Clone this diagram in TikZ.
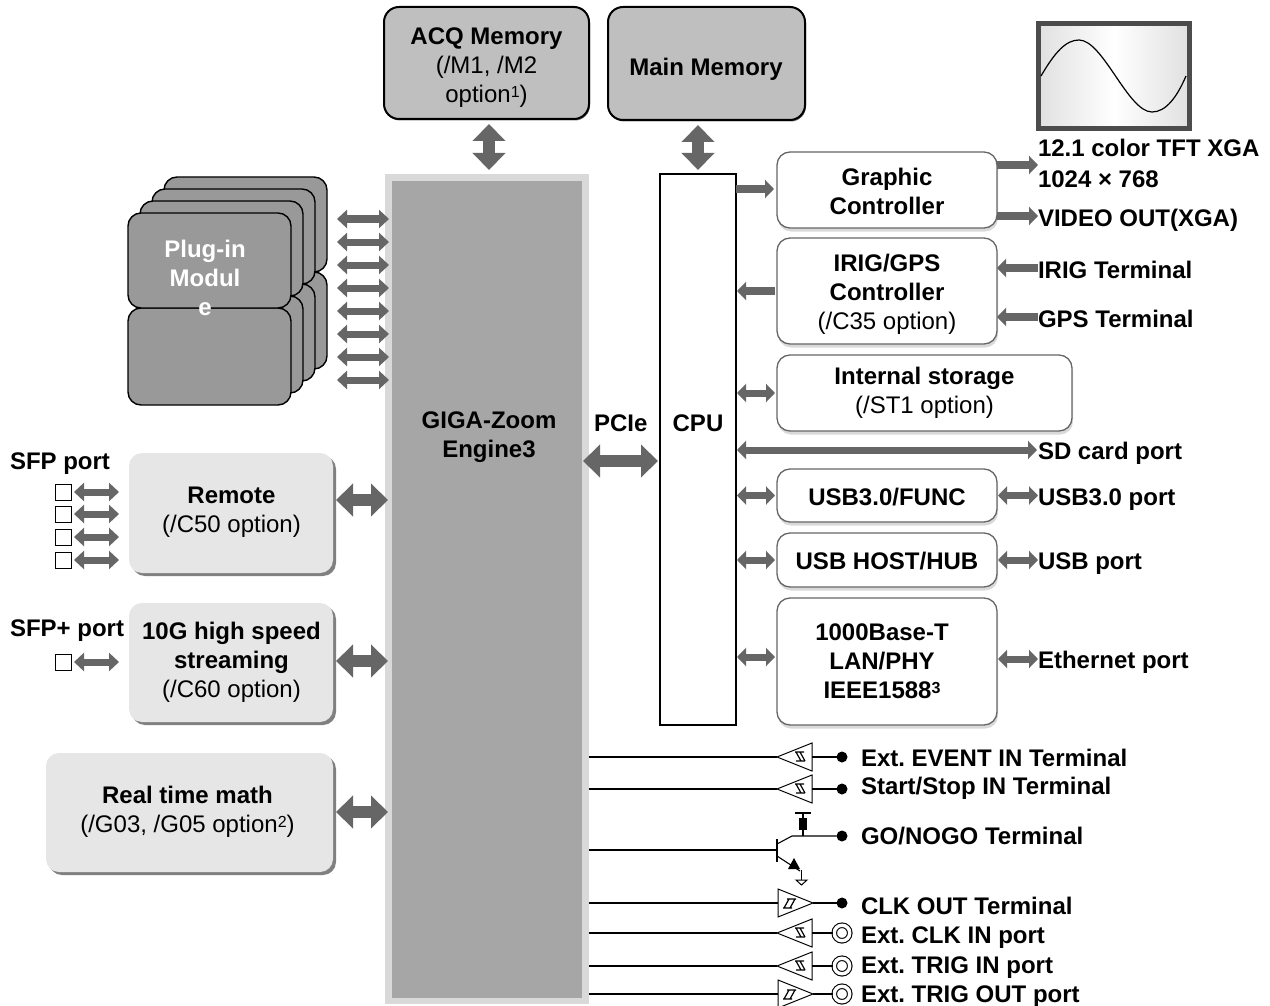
\documentclass[tikz,border=0pt]{standalone}
\usepackage{fontspec}
\setmainfont{Liberation Sans}
\usetikzlibrary{arrows.meta,shapes.geometric,shadows,calc}
\definecolor{arrowgray}{HTML}{666666}
\definecolor{memfill}{HTML}{BFBFBF}
\definecolor{plugfill}{HTML}{999999}
\definecolor{optfill}{HTML}{E6E6E6}
\definecolor{engout}{HTML}{D9D9D9}
\definecolor{engin}{HTML}{A6A6A6}
\tikzset{
  x=1pt,y=-1pt,
  every node/.style={font=\fontsize{24}{29}\selectfont,inner sep=0pt,outer sep=0pt,align=center},
  membox/.style={draw=black,line width=2pt,fill=memfill,rounded corners=15pt,
    general shadow={fill=black!55,shadow xshift=1pt,shadow yshift=-1.5pt}},
  plugbox/.style={draw=black,line width=1.4pt,fill=plugfill,rounded corners=13pt,minimum width=163pt},
  optbox/.style={fill=optfill,rounded corners=13pt,
    general shadow={fill=black!50,shadow xshift=3pt,shadow yshift=-3pt}},
  ctlbox/.style={draw=black!60,line width=1.3pt,fill=white,rounded corners=13pt,
    general shadow={fill=black!15,shadow xshift=1pt,shadow yshift=-3.5pt}},
  plainbox/.style={draw=black,line width=1.5pt,fill=white},
  lab/.style={anchor=base west},
  bigdbl/.style={draw=arrowgray,line width=12pt,{Triangle[length=17pt,width=32pt]}-{Triangle[length=17pt,width=32pt]}},
  middbl/.style={draw=arrowgray,line width=7pt,{Triangle[length=9pt,width=18pt]}-{Triangle[length=9pt,width=18pt]}},
  midone/.style={draw=arrowgray,line width=8pt,-{Triangle[length=9pt,width=18pt]}},
  smalldbl/.style={draw=arrowgray,line width=7pt,{Triangle[length=10pt,width=18pt]}-{Triangle[length=10pt,width=18pt]}},
  wire/.style={draw=black,line width=1.1pt},
  symb/.style={draw=black,line width=1pt},
  dotnode/.style={circle,fill=black,minimum size=11pt},
  ringnode/.style={circle,draw=black,line width=1.1pt,fill=white,minimum size=15.5pt,double=white,double distance=3.4pt},
  portbox/.style={draw=black,line width=1pt,fill=white,minimum size=16pt},
}
\newcommand{\supmark}[1]{\raisebox{5pt}{\fontsize{16}{16}\selectfont #1}}
% input buffer pointing left: apex coordinate #1-a, back coordinate #1-b
\newcommand{\bufleft}[2]{%
  \coordinate (#1-a) at (777,#2);
  \coordinate (#1-b) at (812,#2);
  \draw[symb,fill=white] (#1-a) -- (812,#2-14) -- (812,#2+14) -- cycle;
  \draw[symb,line width=1.2pt] (795,#2-5) -- (804,#2-5) (796,#2+4) -- (805,#2+4)
     (796,#2-5) -- (801,#2+4) (800,#2-5) -- (805,#2+4);
}
% output buffer pointing right
\newcommand{\bufright}[2]{%
  \coordinate (#1-b) at (778,#2);
  \coordinate (#1-a) at (813,#2);
  \draw[symb,fill=white] (#1-b) -- (778,#2-14) -- (#1-a) -- (778,#2+14) -- cycle;
  \draw[symb,line width=1.2pt] (783,#2+5) -- (792,#2+5) (787,#2-4) -- (796,#2-4)
     (784,#2+5) -- (789,#2-4) (790,#2+5) -- (795,#2-4);
}
\begin{document}
\frenchspacing
\begin{tikzpicture}
\useasboundingbox (0,0) rectangle (1270,1006);
% memories
\node[membox,minimum width=205pt,minimum height=112pt] (acq) at (486.5,63) {};
\node (acqtext) at (486.5,67.5) {\textbf{ACQ Memory}\\(/M1, /M2\\option\supmark{1})};
\node[membox,minimum width=197pt,minimum height=113pt] (mainmem) at (706.5,63.5) {};
\node (maintext) at (706,69) {\textbf{Main Memory}};
% engine
\node[fill=engout,minimum width=204pt,minimum height=830pt] (gz) at (487,589) {};
\node[fill=engin,minimum width=190pt,minimum height=817pt] (gzin) at (487,589.5) {};
\node (gztext) at (489,437) {\textbf{GIGA-Zoom}\\\textbf{Engine3}};
% CPU
\node[plainbox,minimum width=76pt,minimum height=551pt] (cpu) at (698,449.5) {};
\node[anchor=base] (cputext) at (698,431) {\textbf{CPU}};
\node[lab] (pcie) at (594,431) {\textbf{PCIe}};
% plug-in stack
\foreach \i/\xx/\yu/\yl in {a/245.5/224.5/320.5,b/233.5/236.5/332.5,c/221.5/248.5/344.5,d/209.5/260.5/356.5}{
  \node[plugbox,minimum height=97pt] (plugl\i) at (\xx,\yl) {};
  \node[plugbox,minimum height=95pt] (plugu\i) at (\xx,\yu) {};
}
\node[font=\fontsize{24}{29}\selectfont\bfseries,text=white] (plugtext) at (205,278) {Plug-in\\Modul\\e};
\foreach \yy in {219,242,265,288,311,334,357,380}{
  \draw[smalldbl,shorten <=10pt,shorten >=-4pt] (plugua.east |- 0,\yy) -- (gz.west |- 0,\yy);
}
% left option boxes
\node[optbox,minimum width=204pt,minimum height=120pt] (remote) at (231,513) {};
\node (remotetext) at (231.5,512.5) {\textbf{Remote}\\(/C50 option)};
\node[optbox,minimum width=204pt,minimum height=119pt] (tenG) at (231,662.5) {};
\node (tenGtext) at (231.5,662) {\textbf{10G high speed}\\\textbf{streaming}\\(/C60 option)};
\node[optbox,minimum width=287pt,minimum height=119pt] (rtm) at (189.5,812.5) {};
\node (rtmtext) at (187.5,811.5) {\textbf{Real time math}\\(/G03, /G05 option\supmark{2})};
\node[lab] (sfp) at (10,469) {\textbf{SFP port}};
\node[lab] (sfpp) at (10,636) {\textbf{SFP+ port}};
\foreach \n/\yy in {1/492,2/514,3/537,4/560}{
  \node[portbox] (s\n) at (63,\yy) {};
  \draw[smalldbl,shorten <=3pt,shorten >=10pt] (s\n.east) -- (remote.west |- s\n) ;
}
\node[portbox] (sp) at (63,662) {};
\draw[smalldbl,shorten <=3pt,shorten >=10pt] (sp.east) -- (tenG.west |- sp);
\draw[bigdbl,shorten <=3pt,shorten >=-3pt] (remote.east |- 0,500) -- (gz.west |- 0,500);
\draw[bigdbl,shorten <=3pt,shorten >=-3pt] (tenG.east |- 0,661) -- (gz.west |- 0,661);
\draw[bigdbl,shorten <=3pt,shorten >=-3pt] (rtm.east |- 0,812) -- (gz.west |- 0,812);
\draw[bigdbl,shorten <=-6pt,shorten >=2pt] (gz.east |- 0,461) -- (cpu.west |- 0,461);
\draw[bigdbl,shorten <=5pt,shorten >=4pt] (acq.south -| 489,0) -- (gz.north -| 489,0);
\draw[bigdbl,shorten <=5pt,shorten >=4pt] (mainmem.south -| cpu.north) -- (cpu.north);
% right controllers
\node[ctlbox,minimum width=220pt,minimum height=76pt] (gc) at (887,190) {};
\node (gctext) at (887,191.5) {\textbf{Graphic}\\\textbf{Controller}};
\node[ctlbox,minimum width=220pt,minimum height=106pt] (irig) at (887,291) {};
\node (irigtext) at (887,294) {\textbf{IRIG/GPS}\\\textbf{Controller}\\(/C35 option)};
\node[ctlbox,minimum width=295pt,minimum height=76pt] (stor) at (924.5,393) {\textbf{Internal storage}\\(/ST1 option)};
\node[ctlbox,minimum width=220pt,minimum height=53pt] (usb3) at (887,495.5) {};
\node (usb3text) at (887,497) {\textbf{USB3.0/FUNC}};
\node[ctlbox,minimum width=220pt,minimum height=54pt] (usbh) at (887,560) {};
\node (usbhtext) at (887,561) {\textbf{USB HOST/HUB}};
\node[ctlbox,minimum width=220pt,minimum height=127pt] (lan) at (887,661.5) {};
\node (lantext) at (882,661) {\textbf{1000Base-T}\\\textbf{LAN/PHY}\\\textbf{IEEE1588\supmark{3}}};
% right labels
\node[lab] (tft) at (1038,157) {\textbf{12.1 color TFT XGA}};
\node[lab] (res) at (1038,188) {\textbf{1024 × 768}};
\node[lab] (video) at (1038,226) {\textbf{VIDEO OUT(XGA)}};
\node[lab] (irigt) at (1038,278) {\textbf{IRIG Terminal}};
\node[lab] (gpst) at (1038,327) {\textbf{GPS Terminal}};
\node[lab] (sd) at (1038,459) {\textbf{SD card port}};
\node[lab] (usb3p) at (1038,505) {\textbf{USB3.0 port}};
\node[lab] (usbp) at (1038,569) {\textbf{USB port}};
\node[lab] (eth) at (1038,668) {\textbf{Ethernet port}};
% CPU arrows
\draw[midone,shorten >=3pt] (cpu.east |- 0,189) -- (gc.west |- 0,189);
\draw[midone,shorten >=1pt,shorten <=2pt] (irig.west) -- (cpu.east |- irig.west);
\draw[middbl,shorten <=1pt,shorten >=2pt] (cpu.east |- stor.west) -- (stor.west);
\draw[middbl,shorten <=1pt,shorten >=1pt] (cpu.east |- 0,450) -- (sd.west |- 0,450);
\draw[middbl,shorten <=1pt,shorten >=2pt] (cpu.east |- usb3.west) -- (usb3.west);
\draw[middbl,shorten <=1pt,shorten >=2pt] (cpu.east |- usbh.west) -- (usbh.west);
\draw[middbl,shorten <=1pt,shorten >=2pt] (cpu.east |- 0,657) -- (lan.west |- 0,657);
% right side arrows
\draw[midone] (gc.east |- 0,165) -- (tft.west |- 0,165);
\draw[midone] (gc.east |- 0,216) -- (video.west |- 0,216);
\draw[midone] (irigt.west |- 0,268) -- (irig.east |- 0,268);
\draw[midone] (gpst.west |- 0,317) -- (irig.east |- 0,317);
\draw[middbl,shorten <=1pt] (usb3.east) -- (usb3p.west |- usb3.east);
\draw[middbl,shorten <=1pt] (usbh.east) -- (usbp.west |- usbh.east);
\draw[middbl,shorten <=1pt] (lan.east |- 0,659) -- (eth.west |- 0,659);
% display
\node[draw=black!70,line width=4.5pt,minimum width=151pt,minimum height=105pt,shading angle=135,left color=black!12,right color=black!12,middle color=white] (disp) at (1114,76) {};
\draw[line width=1.2pt] (1041,76) .. controls (1055,52) and (1066,40) .. (1079,40) .. controls (1103,40) and (1128,112) .. (1152,112) .. controls (1166,112) and (1177,97) .. (1186,76);
% lower terminals
\node[lab] (t1) at (861,766) {\textbf{Ext. EVENT IN Terminal}};
\node[lab] (t2) at (861,794) {\textbf{Start/Stop IN Terminal}};
\node[lab] (t3) at (861,844) {\textbf{GO/NOGO Terminal}};
\node[lab] (t4) at (861,914) {\textbf{CLK OUT Terminal}};
\node[lab] (t5) at (861,943) {\textbf{Ext. CLK IN port}};
\node[lab] (t6) at (861,973) {\textbf{Ext. TRIG IN port}};
\node[lab] (t7) at (861,1002) {\textbf{Ext. TRIG OUT port}};
\bufleft{b1}{757}
\bufleft{b2}{789}
\bufright{b4}{903}
\bufleft{b5}{933}
\bufleft{b6}{966}
\bufright{b7}{994}
\node[dotnode] (d1) at (842,757) {};
\node[dotnode] (d2) at (842,789) {};
\node[dotnode] (d3) at (842,836) {};
\node[dotnode] (d4) at (842,903) {};
\node[ringnode] (r5) at (842,933) {};
\node[ringnode] (r6) at (842,966) {};
\node[ringnode] (r7) at (842,994) {};
\draw[wire] (gz.east |- b1-a) -- (b1-a);
\draw[wire] (gz.east |- b2-a) -- (b2-a);
\draw[wire] (gz.east |- b4-b) -- (b4-b);
\draw[wire] (gz.east |- b5-a) -- (b5-a);
\draw[wire] (gz.east |- b6-a) -- (b6-a);
\draw[wire] (gz.east |- b7-b) -- (b7-b);
\draw[wire] (b1-b) -- (d1);
\draw[wire] (b2-b) -- (d2);
\draw[wire] (b4-a) -- (d4);
\draw[wire,shorten >=1pt] (b5-b) -- (r5);
\draw[wire,shorten >=1pt] (b6-b) -- (r6);
\draw[wire,shorten >=1pt] (b7-a) -- (r7);
% transistor
\coordinate (base) at (777,850);
\draw[wire] (gz.east |- base) -- (base);
\draw[wire] (777,839) -- (777,862);
\draw[wire] (777,844) -- (792,836) -- (d3);
\draw[wire] (777,856) -- (800,871);
\fill (788,869) -- (800,869) -- (794,858) -- cycle;
\draw[wire] (803,836) -- (803,813);
\draw[wire] (795,813) -- (811,813);
\fill (799,818) rectangle (807,830);
\draw[symb] (801,870) -- (801,880);
\draw[symb,fill=white] (796,880) -- (807,880) -- (801.5,885) -- cycle;
\end{tikzpicture}
\end{document}
